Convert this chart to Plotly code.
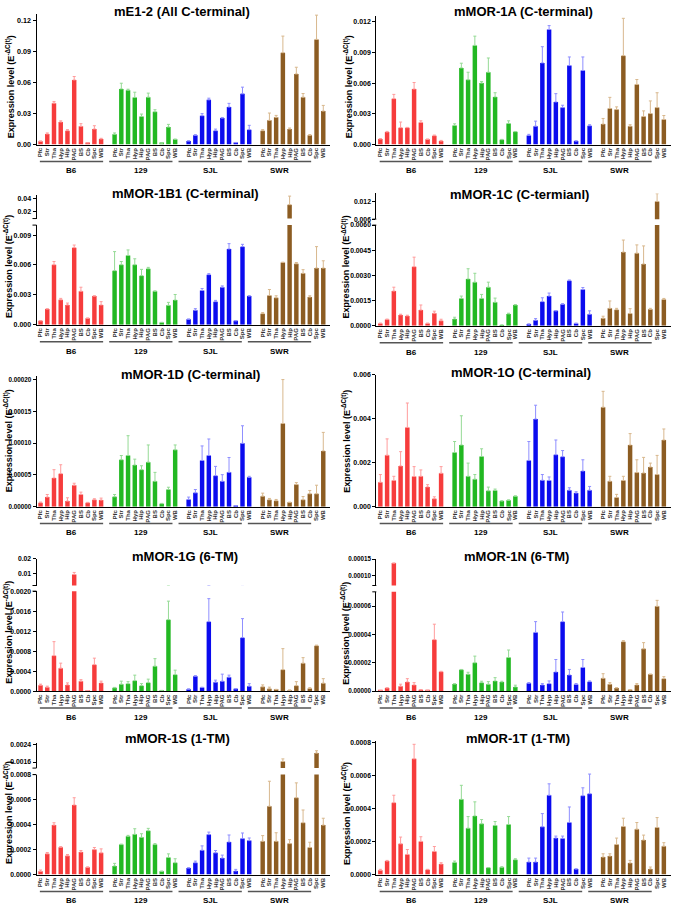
import plotly.graph_objects as go

W, H = 673, 912

regions = ["Pfc", "Str", "Tha", "Hyp", "Hip", "PAG", "BS", "Cb", "Spc", "WB"]
strains = ["B6", "129", "SJL", "SWR"]

# bar heights (one row per strain) and the top of each SEM whisker
e12_mean = [[0.0032, 0.0103, 0.0402, 0.0219, 0.0135, 0.0627, 0.0177, 0.0016, 0.0151, 0.0055],
            [0.0100, 0.0540, 0.0528, 0.0457, 0.0273, 0.0460, 0.0318, 0.0013, 0.0170, 0.0051],
            [0.0035, 0.0090, 0.0280, 0.0434, 0.0135, 0.0257, 0.0364, 0.0019, 0.0492, 0.0145],
            [0.0135, 0.0235, 0.0264, 0.0891, 0.0151, 0.0685, 0.0460, 0.0090, 0.1020, 0.0325]]
e12_upper = [[0.0035, 0.0113, 0.0418, 0.0230, 0.0145, 0.0660, 0.0203, 0.0019, 0.0183, 0.0061],
             [0.0113, 0.0595, 0.0537, 0.0508, 0.0296, 0.0499, 0.0338, 0.0015, 0.0196, 0.0053],
             [0.0037, 0.0096, 0.0300, 0.0450, 0.0150, 0.0263, 0.0400, 0.0021, 0.0557, 0.0187],
             [0.0145, 0.0306, 0.0283, 0.1052, 0.0161, 0.0750, 0.0495, 0.0097, 0.1255, 0.0380]]

m1a_mean = [[0.00055, 0.00123, 0.00448, 0.00165, 0.00165, 0.00542, 0.00216, 0.00052, 0.00087, 0.00035],
            [0.00187, 0.00748, 0.00632, 0.00968, 0.00600, 0.00706, 0.00465, 0.00048, 0.00206, 0.00126],
            [0.00090, 0.00180, 0.00797, 0.01123, 0.00416, 0.00361, 0.00771, 0.00035, 0.00723, 0.00184],
            [0.00200, 0.00352, 0.00342, 0.00868, 0.00180, 0.00587, 0.00274, 0.00303, 0.00361, 0.00245]]
m1a_upper = [[0.00058, 0.00129, 0.00490, 0.00220, 0.00168, 0.00606, 0.00232, 0.00054, 0.00093, 0.00041],
             [0.00203, 0.00794, 0.00706, 0.01058, 0.00616, 0.00845, 0.00506, 0.00051, 0.00232, 0.00128],
             [0.00100, 0.00229, 0.00955, 0.01161, 0.00497, 0.00384, 0.00855, 0.00037, 0.00855, 0.00194],
             [0.00255, 0.00461, 0.00368, 0.01232, 0.00194, 0.00635, 0.00329, 0.00426, 0.00506, 0.00284]]

m1b1_mean = [[0.00040, 0.00159, 0.00602, 0.00251, 0.00199, 0.00774, 0.00337, 0.00066, 0.00288, 0.00199],
             [0.00543, 0.00602, 0.00695, 0.00602, 0.00493, 0.00562, 0.00337, 0.00023, 0.00195, 0.00248],
             [0.00056, 0.00146, 0.00344, 0.00503, 0.00232, 0.00377, 0.00761, 0.00040, 0.00784, 0.00288],
             [0.00112, 0.00294, 0.00271, 0.00625, 0.03100, 0.00612, 0.00516, 0.00278, 0.00569, 0.00569]]
m1b1_upper = [[0.00042, 0.00161, 0.00635, 0.00265, 0.00218, 0.00800, 0.00377, 0.00068, 0.00291, 0.00232],
              [0.00734, 0.00635, 0.00751, 0.00662, 0.00556, 0.00576, 0.00340, 0.00025, 0.00225, 0.00304],
              [0.00058, 0.00162, 0.00364, 0.00513, 0.00245, 0.00390, 0.00814, 0.00042, 0.00807, 0.00292],
              [0.00122, 0.00354, 0.00291, 0.00628, 0.04400, 0.00625, 0.00553, 0.00291, 0.00784, 0.00642]]

m1c_mean = [[0.00014, 0.00037, 0.00207, 0.00065, 0.00059, 0.00352, 0.00094, 0.00014, 0.00075, 0.00030],
            [0.00041, 0.00163, 0.00279, 0.00260, 0.00163, 0.00230, 0.00140, 0.00004, 0.00071, 0.00124],
            [0.00010, 0.00033, 0.00144, 0.00177, 0.00089, 0.00128, 0.00269, 0.00014, 0.00216, 0.00069],
            [0.00045, 0.00104, 0.00096, 0.00439, 0.00073, 0.00433, 0.00368, 0.00098, 0.01220, 0.00157]]
m1c_upper = [[0.00016, 0.00040, 0.00230, 0.00069, 0.00063, 0.00409, 0.00124, 0.00016, 0.00087, 0.00039],
             [0.00051, 0.00177, 0.00340, 0.00313, 0.00187, 0.00260, 0.00165, 0.00005, 0.00075, 0.00126],
             [0.00011, 0.00043, 0.00167, 0.00195, 0.00090, 0.00132, 0.00273, 0.00016, 0.00228, 0.00089],
             [0.00057, 0.00148, 0.00104, 0.00511, 0.00102, 0.00482, 0.00476, 0.00104, 0.01490, 0.00163]]

m1d_mean = [[6.2e-6, 15.1e-6, 45.2e-6, 52.0e-6, 8.8e-6, 33.8e-6, 19.2e-6, 6.2e-6, 10.9e-6, 10.4e-6],
            [15.6e-6, 73.8e-6, 80.5e-6, 65.5e-6, 58.2e-6, 70.1e-6, 40.0e-6, 4.7e-6, 27.0e-6, 89.4e-6],
            [11.4e-6, 21.8e-6, 72.7e-6, 80.5e-6, 48.8e-6, 40.0e-6, 54.0e-6, 1.0e-6, 99.7e-6, 46.2e-6],
            [16.6e-6, 10.9e-6, 9.4e-6, 130.9e-6, 6.8e-6, 34.8e-6, 10.9e-6, 20.3e-6, 20.3e-6, 87.8e-6]]
m1d_upper = [[7.3e-6, 19.2e-6, 58.2e-6, 66.0e-6, 14.0e-6, 36.9e-6, 22.9e-6, 6.8e-6, 12.5e-6, 13.5e-6],
             [19.2e-6, 80.5e-6, 111.7e-6, 74.8e-6, 64.4e-6, 97.1e-6, 54.0e-6, 5.2e-6, 30.6e-6, 97.1e-6],
             [15.1e-6, 27.0e-6, 95.6e-6, 106.5e-6, 63.4e-6, 50.4e-6, 77.4e-6, 1.2e-6, 127.3e-6, 47.8e-6],
             [21.3e-6, 13.0e-6, 11.4e-6, 200.0e-6, 7.0e-6, 37.9e-6, 16.0e-6, 25.5e-6, 33.8e-6, 116.9e-6]]

m1o_mean = [[0.00111, 0.00234, 0.00119, 0.00185, 0.00360, 0.00137, 0.00138, 0.00090, 0.00036, 0.00152],
            [0.00246, 0.00280, 0.00138, 0.00125, 0.00228, 0.00072, 0.00074, 0.00026, 0.00029, 0.00048],
            [0.00210, 0.00398, 0.00120, 0.00119, 0.00236, 0.00227, 0.00075, 0.00062, 0.00162, 0.00075],
            [0.00452, 0.00116, 0.00042, 0.00119, 0.00280, 0.00155, 0.00153, 0.00180, 0.00146, 0.00303]]
m1o_upper = [[0.00146, 0.00308, 0.00138, 0.00250, 0.00471, 0.00182, 0.00167, 0.00100, 0.00045, 0.00182],
             [0.00296, 0.00413, 0.00198, 0.00146, 0.00263, 0.00089, 0.00080, 0.00027, 0.00031, 0.00049],
             [0.00296, 0.00461, 0.00146, 0.00135, 0.00303, 0.00255, 0.00086, 0.00068, 0.00213, 0.00092],
             [0.00524, 0.00138, 0.00056, 0.00138, 0.00332, 0.00213, 0.00224, 0.00198, 0.00233, 0.00353]]

m1g_mean = [[0.000120, 0.000080, 0.000710, 0.000460, 0.000125, 0.009400, 0.000200, 0.000010, 0.000530, 0.000165],
            [0.000066, 0.000140, 0.000150, 0.000210, 0.000110, 0.000170, 0.000500, 0.000013, 0.001430, 0.000330],
            [0.000040, 0.000300, 0.000073, 0.001390, 0.000180, 0.000200, 0.000280, 0.000046, 0.001070, 0.000100],
            [0.000086, 0.000046, 0.000033, 0.000430, 0.000020, 0.000110, 0.000560, 0.000053, 0.000910, 0.000160]]
m1g_upper = [[0.000140, 0.000100, 0.000990, 0.000560, 0.000165, 0.010800, 0.000230, 0.000012, 0.000660, 0.000200],
             [0.000075, 0.000200, 0.000190, 0.000320, 0.000150, 0.000240, 0.000650, 0.000015, 0.001800, 0.000420],
             [0.000045, 0.000310, 0.000078, 0.001850, 0.000220, 0.000340, 0.000320, 0.000050, 0.001450, 0.000150],
             [0.000125, 0.000080, 0.000036, 0.000850, 0.000022, 0.000190, 0.000670, 0.000070, 0.000920, 0.000250]]

m1n_mean = [[0.3e-6, 2.3e-6, 138.0e-6, 3.5e-6, 6.5e-6, 4.4e-6, 0.9e-6, 0.5e-6, 36.3e-6, 13.7e-6],
            [5.1e-6, 15.1e-6, 11.9e-6, 20.0e-6, 6.0e-6, 4.9e-6, 7.2e-6, 6.5e-6, 23.7e-6, 3.0e-6],
            [5.6e-6, 41.4e-6, 4.4e-6, 5.3e-6, 13.5e-6, 49.0e-6, 11.4e-6, 4.7e-6, 16.7e-6, 6.7e-6],
            [9.1e-6, 4.9e-6, 2.3e-6, 34.9e-6, 0.9e-6, 4.4e-6, 29.8e-6, 11.9e-6, 59.8e-6, 8.8e-6]]
m1n_upper = [[0.3e-6, 2.4e-6, 138.0e-6, 4.9e-6, 8.8e-6, 6.0e-6, 1.0e-6, 0.6e-6, 47.2e-6, 14.0e-6],
             [5.2e-6, 15.3e-6, 13.3e-6, 24.7e-6, 7.0e-6, 6.7e-6, 9.5e-6, 7.0e-6, 29.0e-6, 4.2e-6],
             [6.0e-6, 49.0e-6, 5.3e-6, 7.2e-6, 22.3e-6, 55.8e-6, 15.3e-6, 5.4e-6, 22.3e-6, 7.2e-6],
             [12.3e-6, 6.0e-6, 2.4e-6, 35.6e-6, 1.0e-6, 5.3e-6, 34.2e-6, 12.0e-6, 64.0e-6, 10.2e-6]]

m1s_mean = [[0.000026, 0.000166, 0.000396, 0.000219, 0.000150, 0.000557, 0.000180, 0.000058, 0.000200, 0.000174],
            [0.000069, 0.000240, 0.000306, 0.000322, 0.000298, 0.000351, 0.000240, 0.000026, 0.000137, 0.000095],
            [0.000053, 0.000095, 0.000195, 0.000320, 0.000174, 0.000132, 0.000261, 0.000029, 0.000288, 0.000272],
            [0.000267, 0.000547, 0.000267, 0.001630, 0.000248, 0.000615, 0.000415, 0.000217, 0.002020, 0.000396]]
m1s_upper = [[0.000037, 0.000177, 0.000415, 0.000224, 0.000161, 0.000615, 0.000193, 0.000062, 0.000217, 0.000206],
             [0.000090, 0.000244, 0.000314, 0.000367, 0.000327, 0.000370, 0.000248, 0.000028, 0.000166, 0.000127],
             [0.000055, 0.000108, 0.000230, 0.000340, 0.000193, 0.000156, 0.000317, 0.000042, 0.000333, 0.000293],
             [0.000312, 0.000747, 0.000335, 0.001750, 0.000280, 0.000734, 0.000517, 0.000259, 0.002130, 0.000451]]

m1t_mean = [[0.000026, 0.000082, 0.000435, 0.000186, 0.000122, 0.000700, 0.000201, 0.000030, 0.000140, 0.000064],
            [0.000074, 0.000455, 0.000281, 0.000355, 0.000307, 0.000042, 0.000297, 0.000044, 0.000303, 0.000090],
            [0.000076, 0.000076, 0.000289, 0.000480, 0.000221, 0.000219, 0.000315, 0.000034, 0.000477, 0.000489],
            [0.000106, 0.000112, 0.000182, 0.000291, 0.000070, 0.000275, 0.000209, 0.000034, 0.000285, 0.000172]]
m1t_upper = [[0.000032, 0.000086, 0.000480, 0.000227, 0.000152, 0.000788, 0.000229, 0.000032, 0.000170, 0.000072],
             [0.000082, 0.000540, 0.000351, 0.000440, 0.000333, 0.000043, 0.000321, 0.000048, 0.000351, 0.000096],
             [0.000100, 0.000100, 0.000369, 0.000549, 0.000233, 0.000233, 0.000409, 0.000035, 0.000525, 0.000608],
             [0.000126, 0.000126, 0.000221, 0.000341, 0.000086, 0.000315, 0.000239, 0.000046, 0.000345, 0.000193]]

bar_colors = ["#F63C3C", "#22B822", "#0B0BEE", "#8C5C22"]
whisker_colors = ["#FF9C9C", "#95DA95", "#8F8FFF", "#D8B88E"]

FONT = "Arial, Liberation Sans, sans-serif"

# lo/up: axis range, pixel span (bottom, top) from the page top, tick values and format
# title: (x, y) px; ytitle: (x, y) px of the rotated axis title; tf: y tick font size
panels = [
    dict(name="mE1-2 (All C-terminal)", mean=e12_mean, upper=e12_upper, col=0, title=(182, 8),
         ytitle=(10, 84), tf=7.2,
         lo=([0, 0.127], (142, 9.7), [0, 0.03, 0.06, 0.09, 0.12], "{:.2f}"), up=None),
    dict(name="mMOR-1A (C-terminal)", mean=m1a_mean, upper=m1a_upper, col=1, title=(523, 8),
         ytitle=(348, 84), tf=7,
         lo=([0, 0.0125], (142, 12.6), [0, 0.003, 0.006, 0.009, 0.012], "{:.3f}"), up=None),
    dict(name="mMOR-1B1 (C-terminal)", mean=m1b1_mean, upper=m1b1_upper, col=0, title=(185, 191),
         ytitle=(8.5, 265), tf=7,
         lo=([0, 0.01], (324, 223.3), [0, 0.003, 0.006, 0.009], "{:.3f}"),
         up=([0.01, 0.046], (216.7, 192.7), [0.02, 0.04], "{:.2f}")),
    dict(name="mMOR-1C (C-termianl)", mean=m1c_mean, upper=m1c_upper, col=1, title=(519, 192),
         ytitle=(346, 265), tf=6.8,
         lo=([0, 0.006], (325, 223.3), [0, 0.0015, 0.003, 0.0045, 0.006], "{:.4f}"),
         up=([0.006, 0.015], (217.3, 191.3), [0.006, 0.012], "{:.3f}")),
    dict(name="mMOR-1D (C-terminal)", mean=m1d_mean, upper=m1d_upper, col=0, title=(190, 374),
         ytitle=(7.5, 441), tf=6.3,
         lo=([0, 0.000205], (507.7, 376.1), [0, 0.00005, 0.0001, 0.00015, 0.0002], "{:.5f}"), up=None),
    dict(name="mMOR-1O (C-terminal)", mean=m1o_mean, upper=m1o_upper, col=1, title=(521, 372),
         ytitle=(346, 441), tf=7,
         lo=([0, 0.006], (507.7, 374.3), [0, 0.002, 0.004, 0.006], "{:.3f}"), up=None),
    dict(name="mMOR-1G (6-TM)", mean=m1g_mean, upper=m1g_upper, col=0, title=(185, 558),
         ytitle=(8, 635), tf=6.8,
         lo=([0, 0.002], (694, 593), [0, 0.0004, 0.0008, 0.0012, 0.0016, 0.002], "{:.4f}"),
         up=([0.002, 0.02], (587.3, 560.3), [0.01, 0.02], "{:.2f}")),
    dict(name="mMOR-1N (6-TM)", mean=m1n_mean, upper=m1n_upper, col=1, title=(516, 558),
         ytitle=(345, 635), tf=6.3,
         lo=([0, 0.00007], (694, 593.7), [0, 0.00002, 0.00004, 0.00006], "{:.5f}"),
         up=([0.00007, 0.00015], (587.3, 560.7), [0.0001, 0.00015], "{:.5f}")),
    dict(name="mMOR-1S (1-TM)", mean=m1s_mean, upper=m1s_upper, col=0, title=(177, 742),
         ytitle=(8, 817), tf=6.8,
         lo=([0, 0.0008], (879.3, 778.3), [0, 0.0002, 0.0004, 0.0006, 0.0008], "{:.4f}"),
         up=([0.00132, 0.0025], (771.7, 746.2), [0.0016, 0.0024], "{:.4f}")),
    dict(name="mMOR-1T (1-TM)", mean=m1t_mean, upper=m1t_upper, col=1, title=(518, 742),
         ytitle=(346, 817), tf=6.8,
         lo=([0, 0.00081], (879.3, 744), [0, 0.0002, 0.0004, 0.0006, 0.0008], "{:.4f}"), up=None),
]

# plot-area edges (px) per column
col_px = [(36.5, 330.0), (376.3, 670.6)]
x_range = [-0.6, 43.0]


def px_x(px):
    return px / W


def py(px):
    return 1 - px / H


def name(kind, n):
    return kind if n == 1 else f"{kind}{n}"


fig = go.Figure()
shapes = []
annotations = []
layout = {}

for i, p in enumerate(panels):
    n = i + 1
    xa = name("x", n)
    ya = name("y", n)
    x0px, x1px = col_px[p["col"]]
    positions = [g * 11 + j for g in range(4) for j in range(10)]

    rng, (bot, top), tv, fmt = p["lo"]
    tick_font = dict(family=FONT, size=p["tf"], color="black", weight="bold")
    layout[name("xaxis", n)] = dict(
        domain=[px_x(x0px), px_x(x1px)], range=x_range, anchor=ya,
        tickvals=positions, ticktext=regions * 4, tickangle=-90,
        tickfont=dict(family=FONT, size=6, color="#333", weight="bold"),
        showline=True, linecolor="black", linewidth=1, ticks="",
        showgrid=False, zeroline=False, fixedrange=True)
    layout[name("yaxis", n)] = dict(
        domain=[py(bot), py(top)], range=rng, anchor=xa,
        tickvals=tv, ticktext=[fmt.format(v) for v in tv], tickfont=tick_font,
        ticks="outside", ticklen=3, tickwidth=1, tickcolor="black",
        showline=True, linecolor="black", linewidth=1,
        showgrid=False, zeroline=False, fixedrange=True)

    axes = [ya]
    if p["up"]:
        urng, (ubot, utop), utv, ufmt = p["up"]
        ua = name("y", 10 + n)
        layout[name("yaxis", 10 + n)] = dict(
            domain=[py(ubot), py(utop)], range=urng, anchor=xa,
            tickvals=utv, ticktext=[ufmt.format(v) for v in utv], tickfont=tick_font,
            ticks="outside", ticklen=3, tickwidth=1, tickcolor="black",
            showline=True, linecolor="black", linewidth=1,
            showgrid=False, zeroline=False, fixedrange=True)
        axes.append(ua)
        # small end marks at the axis break
        for ypx in (ubot, top):
            shapes.append(dict(type="line", xref="paper", yref="paper",
                               x0=px_x(x0px - 4), x1=px_x(x0px), y0=py(ypx), y1=py(ypx),
                               line=dict(color="black", width=1)))

    for g, strain in enumerate(strains):
        xs = [g * 11 + j for j in range(10)]
        err = [u - m for m, u in zip(p["mean"][g], p["upper"][g])]
        for a in axes:
            fig.add_trace(go.Bar(
                x=xs, y=p["mean"][g], width=0.66, xaxis=xa, yaxis=a,
                marker=dict(color=bar_colors[g], line=dict(width=0)),
                error_y=dict(type="data", symmetric=False, array=err, arrayminus=[0] * 10,
                             color=whisker_colors[g], thickness=1, width=1.5),
                name=strain, showlegend=False, hoverinfo="skip"))
        # group underline and label (slightly shorter pitch than the bar groups, as drawn)
        gx = g * 10.3
        shapes.append(dict(type="line", xref=xa, yref="paper", x0=gx - 0.1, x1=gx + 9.3,
                           y0=py(bot + 17), y1=py(bot + 17), line=dict(color="#555", width=1.5)))
        annotations.append(dict(text=strain, xref=xa, yref="paper", x=gx + 4.6, y=py(bot + 26.5),
                                showarrow=False, xanchor="center", yanchor="middle",
                                font=dict(family=FONT, size=8, color="black", weight="bold")))

    tx, ty = p["title"]
    annotations.append(dict(text=p["name"], xref="paper", yref="paper", x=px_x(tx), y=py(ty),
                            showarrow=False, xanchor="center", yanchor="middle",
                            font=dict(family=FONT, size=13, color="black", weight="bold")))
    yx, yy = p["ytitle"]
    annotations.append(dict(text="Expression level (E<sup>-ΔC(t)</sup>)", xref="paper", yref="paper",
                            x=px_x(yx), y=py(yy), textangle=-90,
                            showarrow=False, xanchor="center", yanchor="middle",
                            font=dict(family=FONT, size=9, color="black", weight="bold")))

fig.update_layout(
    width=W, height=H, margin=dict(l=0, r=0, t=0, b=0),
    paper_bgcolor="white", plot_bgcolor="white",
    barmode="overlay", showlegend=False,
    shapes=shapes, annotations=annotations, **layout)

# drop the browser's default body margin so the 673x912 figure fills the window exactly
fig.write_html("out.html", config={"displayModeBar": False},
               post_script="document.body.style.margin = '0';")
